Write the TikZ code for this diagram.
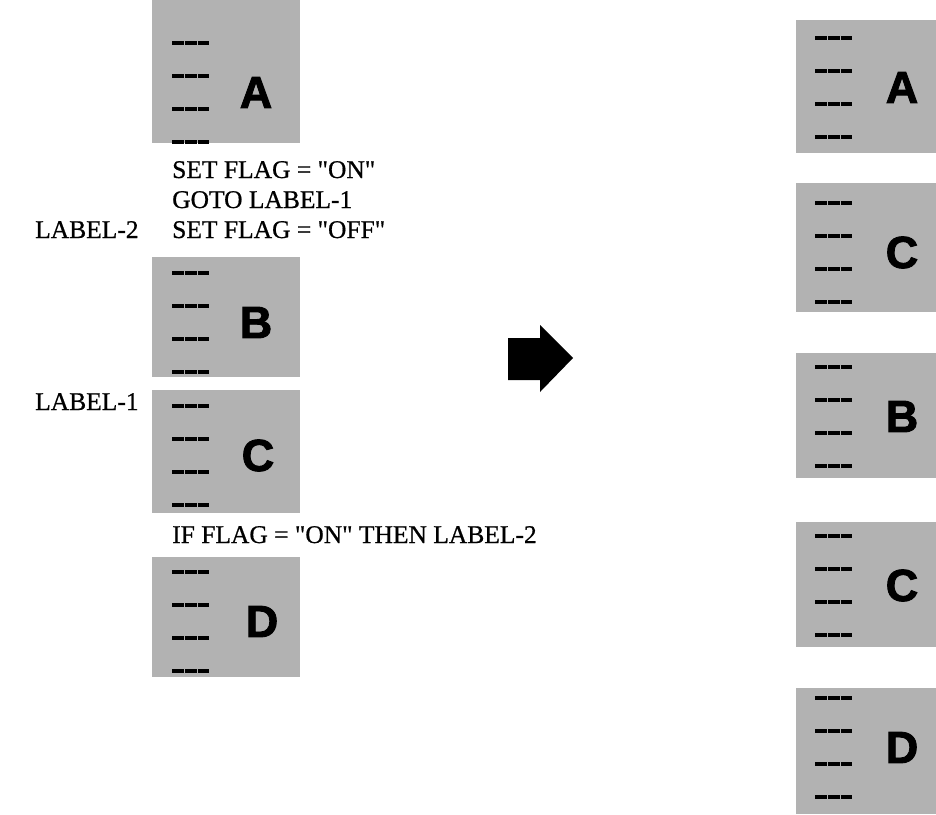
\documentclass[tikz,border=0pt]{standalone}
\usepackage{fontspec}
\newfontfamily\codefont{Liberation Serif}[FakeBold=0.7]
\newfontfamily\blkfont{Liberation Sans}[BoldFeatures={FakeBold=2}]
\tikzset{
  blockbox/.style={fill=black!30, draw=none, anchor=north west, inner sep=0pt, outer sep=0pt},
  dashline/.style={line width=3.5pt, black, dash pattern=on 12pt off 0.8pt},
  bigletter/.style={font=\blkfont\bfseries\fontsize{45}{45}\selectfont, inner sep=0pt, text=black},
  codetext/.style={font=\codefont\fontsize{25.5}{30}\selectfont, anchor=base west, inner sep=0pt},
  bigarrow/.style={fill=black, draw=none},
}
% #1 name, #2 x, #3 y top, #4 width, #5 height, #6 letter, #7 first dash y, #8 dash x0, #9 letter x
\newcommand\codeblock[9]{%
  \node[blockbox, minimum width=#4pt, minimum height=#5pt] (#1) at (#2,#3) {};
  \foreach \k in {0,1,2,3}{
    \draw[dashline] (#8,{#7+33*\k}) -- ++(37,0);
  }
  \node[bigletter] (#1-l) at (#9,{#7+49.5}) {#6};
}
\begin{document}
\begin{tikzpicture}[x=1pt,y=-1pt]
\useasboundingbox (0,0) rectangle (936,814);
% left column
\codeblock{la}{152}{0}{148}{143}{A}{43}{172}{256}
\codeblock{lb}{152}{257}{148}{120}{B}{273}{172}{256}
\codeblock{lc}{152}{390}{148}{123}{C}{406}{172}{258}
\codeblock{ld}{152}{557}{148}{120}{D}{572}{172}{262}
\node[codetext] (t1) at (172,178) {SET FLAG = "ON"};
\node[codetext] (t2) at (172,208) {GOTO LABEL-1};
\node[codetext] (t3) at (172,238) {SET FLAG = "OFF"};
\node[codetext] (l2) at (35,238) {LABEL-2};
\node[codetext] (l1) at (35,410) {LABEL-1};
\node[codetext] (t4) at (172,543) {IF FLAG = "ON" THEN LABEL-2};
% arrow
\fill[bigarrow] (508,338) -- (540,338) -- (540,325) -- (573,358) -- (540,392) -- (540,380) -- (508,380) -- cycle;
% right column
\codeblock{ra}{796}{20}{140}{133}{A}{38}{815}{902}
\codeblock{rc}{796}{183}{140}{129}{C}{203}{815}{902}
\codeblock{rb}{796}{353}{140}{125}{B}{367}{815}{902}
\codeblock{rc2}{796}{522}{140}{125}{C}{536}{815}{902}
\codeblock{rd}{796}{688}{140}{126}{D}{698}{815}{902}
\end{tikzpicture}
\end{document}
